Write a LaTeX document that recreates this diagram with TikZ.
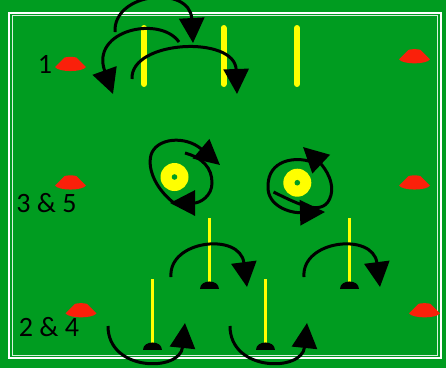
\documentclass[tikz,border=0pt]{standalone}
\usepackage{fontspec}
\setmainfont{Carlito}
\usetikzlibrary{arrows.meta}
\definecolor{pitch}{RGB}{0,156,32}
\definecolor{conered}{RGB}{250,32,10}
\definecolor{poleyellow}{RGB}{255,255,0}

\begin{document}
\begin{tikzpicture}[x=1pt, y=-1pt,
    lbl/.style={font=\fontsize{28}{30}\selectfont, inner sep=0pt},
    run/.style={line width=3pt, -{Triangle[length=25pt, width=25pt]}},
    tallpole/.style={poleyellow, line width=6pt, line cap=round},
    cone/.pic={\fill[conered] (-15.5,-4) -- (-6,-13.4) .. controls (-4,-14.4) and (4,-14.4) .. (6,-13.4)
        -- (15.5,-4) .. controls (12,1.4) and (-12,1.4) .. cycle;},
    disc/.pic={\fill[poleyellow] (0,0) circle (14); \fill[pitch] (0,0) circle (2.8);},
    stick/.pic={\draw[poleyellow, line width=2.6pt] (0,-4) -- (0,-71);
        \fill[black] (-9.5,0) .. controls (-9.5,-10.5) and (9.5,-10.5) .. (9.5,0) -- cycle;},
  ]
    \fill[pitch] (0,0) rectangle (446,368);
    \useasboundingbox (0,0) rectangle (446,368);
    \draw[white, line width=2pt] (9,12.5) rectangle (440.5,358.3);
    \draw[white!85!pitch, line width=1pt] (12,15.3) rectangle (437.8,355.8);

    % cones
    \pic at (70.5,71) {cone};
    \pic at (414.5,63.3) {cone};
    \pic at (70.5,189.5) {cone};
    \pic at (414.5,189.5) {cone};
    \pic at (81,317.3) {cone};
    \pic at (424.5,317.3) {cone};

    % labels
    \node[lbl] (lone) at (45,64.5) {1};
    \node[lbl] (lthree) at (46.5,203.5) {3 \& 5};
    \node[lbl] (ltwo) at (49,327.5) {2 \& 4};

    % station 1
    \draw[tallpole] (144,28) -- (144,84);
    \draw[tallpole] (223.5,28) -- (223.5,84);
    \draw[tallpole] (297,28) -- (297,84);
    \draw[run] (115,32) .. controls (113,-8) and (190,-15) .. (193,43);
    \draw[run] (179,42) .. controls (160,15) and (90,30) .. (113,94);
    \draw[run] (132,79) .. controls (130,40) and (235,35) .. (237,94);

    % station 3 & 5
    \pic at (174.5,177) {disc};
    \pic at (297.3,182.7) {disc};
    \draw[run] (174,203) .. controls (157,190) and (147,170) .. (151,155)
        .. controls (156,138) and (185,135) .. (220,165);
    \draw[run] (185,153) .. controls (203,158) and (212,168) .. (212,183)
        .. controls (212,196) and (200,203) .. (170,203);
    \draw[run] (312,162) .. controls (295,156) and (268,160) .. (268,186)
        .. controls (267,206) and (290,213) .. (325,212);
    \draw[run] (273.5,192) .. controls (300,205) and (325,218) .. (331,195)
        .. controls (335,178) and (320,163) .. (303,147);

    % station 2 & 4
    \pic at (209.7,289) {stick};
    \pic at (349.3,289) {stick};
    \pic at (152.5,350) {stick};
    \pic at (265.5,350) {stick};
    \draw[run] (171,277) .. controls (168,240) and (240,232) .. (247,287);
    \draw[run] (304,277) .. controls (301,240) and (373,232) .. (380,287);
    \draw[run] (108,326) .. controls (108,372) and (180,372) .. (185,323);
    \draw[run] (230,326) .. controls (230,372) and (302,372) .. (307,323);
\end{tikzpicture}
\end{document}
